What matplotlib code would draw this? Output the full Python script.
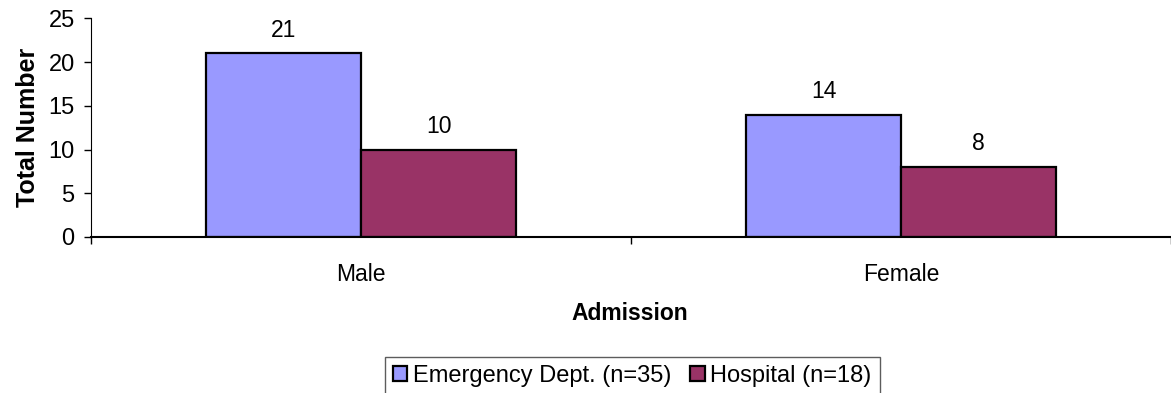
import numpy as np
import matplotlib
matplotlib.use('Agg')
import matplotlib.pyplot as plt

plt.rcParams['font.family'] = ['Liberation Sans', 'DejaVu Sans']

# admissions by sex, split by where the patient was seen
groups = ['Male', 'Female']
ed_counts = [21, 14]
hosp_counts = [10, 8]
series_names = ['Emergency Dept. (n=35)', 'Hospital (n=18)']
colors = ['#9999FF', '#993366']

fig = plt.figure(figsize=(11.71, 3.93), dpi=100)
ax = fig.add_axes([0.078, 0.397, 0.922, 0.556])

x = np.arange(len(groups))
w = 0.287
b1 = ax.bar(x - w / 2, ed_counts, w, color=colors[0], edgecolor='black', lw=1.6,
            label=series_names[0])
b2 = ax.bar(x + w / 2, hosp_counts, w, color=colors[1], edgecolor='black', lw=1.6,
            label=series_names[1])

for bars, vals in ((b1, ed_counts), (b2, hosp_counts)):
    for r, v in zip(bars, vals):
        ax.annotate(str(v), (r.get_x() + r.get_width() / 2, v),
                    xytext=(0, 12), textcoords='offset points',
                    ha='center', va='baseline', fontsize=16.5)

ax.set_xlim(-0.5, 1.5)
ax.set_ylim(0, 25)
ax.set_yticks(range(0, 26, 5))
ax.tick_params(axis='y', labelsize=17, length=5, width=1, pad=7)

# category separators as major ticks, names on zero-length minor ticks
ax.set_xticks([-0.5, 0.5, 1.5])
ax.set_xticklabels([])
ax.tick_params(axis='x', which='major', length=5, width=1)
ax.set_xticks(x, minor=True)
ax.set_xticklabels(groups, minor=True, fontsize=16.5)
ax.tick_params(axis='x', which='minor', length=0, pad=19)

for s in ('top', 'right'):
    ax.spines[s].set_visible(False)
ax.spines['left'].set_color('black')
ax.spines['bottom'].set_color('black')
ax.spines['bottom'].set_linewidth(1.5)

ax.set_ylabel('Total Number', fontsize=18, fontweight='bold', labelpad=6)
fig.text(0.538, 1 - 314 / 393, 'Admission', ha='center', va='center',
         fontsize=16.5, fontweight='bold')

leg = fig.legend(handles=[b1, b2], loc='upper center', bbox_to_anchor=(0.54, 1 - 357 / 393),
                 ncol=2, fontsize=17, frameon=True, fancybox=False,
                 handlelength=0.6, handleheight=0.6, handletextpad=0.25,
                 columnspacing=0.8, borderpad=0.35, borderaxespad=0)
leg.get_frame().set_edgecolor('#333333')
leg.get_frame().set_linewidth(1)

fig.savefig('out.png', dpi=100)
